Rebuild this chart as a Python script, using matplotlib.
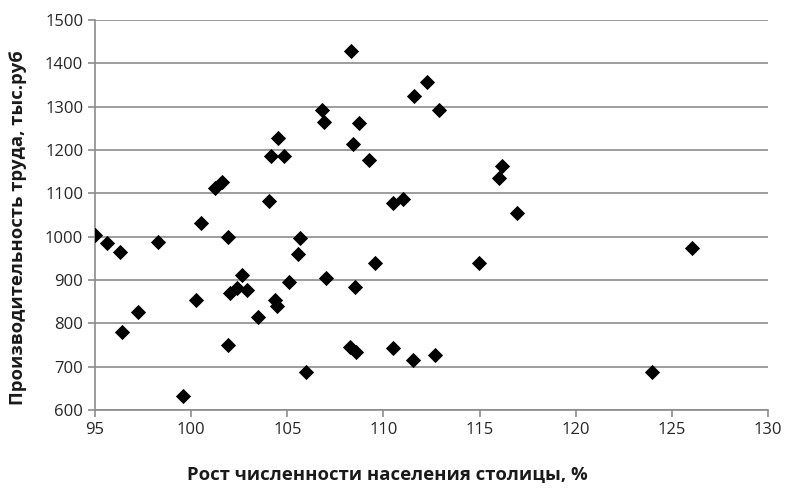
import matplotlib.pyplot as plt

# рост численности населения столицы, %
growth = [95.0, 95.6, 96.3, 96.4, 97.25, 98.26, 99.56, 100.24, 100.51, 101.24,
          101.59, 101.9, 101.93, 102.02, 102.37, 102.63, 102.89, 103.46, 104.05, 104.15,
          104.36, 104.45, 104.53, 104.83, 105.1, 105.57, 105.66, 105.95, 106.79, 106.9,
          107.01, 108.26, 108.31, 108.4, 108.52, 108.57, 108.74, 109.25, 109.56, 110.48,
          110.51, 111.03, 111.55, 111.61, 112.25, 112.68, 112.89, 114.97, 116.02, 116.15,
          116.96, 123.95, 126.03]
# производительность труда, тыс.руб
productivity = [1005, 985, 965, 781, 827, 987, 633, 854, 1031, 1112,
                1127, 1000, 750, 869, 881, 912, 877, 815, 1082, 1186,
                854, 840, 1227, 1186, 895, 960, 996, 688, 1292, 1265,
                904, 746, 1429, 1213, 885, 735, 1262, 1177, 940, 744,
                1078, 1086, 715, 1325, 1358, 727, 1292, 940, 1136, 1164,
                1054, 688, 975]

xticks = [95, 100, 105, 110, 115, 120, 125, 130]
yticks = [600, 700, 800, 900, 1000, 1100, 1200, 1300, 1400, 1500]

plt.rcParams['font.family'] = ['Open Sans', 'DejaVu Sans']

fig = plt.figure(figsize=(7.89, 4.88), dpi=100)
ax = fig.add_axes([0.1204, 0.1598, 0.853, 0.7992])

ax.scatter(growth, productivity, marker='D', s=60, color='black', zorder=3, linewidths=0)

ax.set_xlim(95, 130)
ax.set_ylim(600, 1500)
ax.set_xticks(xticks)
ax.set_yticks(yticks)
ax.yaxis.grid(True, color='#8c8c8c', linewidth=1.2)
ax.set_axisbelow(True)

for s in ['top', 'right']:
    ax.spines[s].set_visible(False)
for s in ['left', 'bottom']:
    ax.spines[s].set_color('#8c8c8c')
    ax.spines[s].set_linewidth(1.2)
ax.tick_params(colors='#8c8c8c', labelcolor='#262626', labelsize=12, length=5, width=1.2)

ax.set_xlabel('Рост численности населения столицы, %', fontsize=13.3, fontweight='bold',
              color='#1a1a1a')
ax.xaxis.set_label_coords(0.435, -0.143)
ax.set_ylabel('Производительность труда, тыс.руб', fontsize=13.3, fontweight='bold',
              color='#1a1a1a')
ax.yaxis.set_label_coords(-0.101, 0.467)

fig.savefig('out.png', dpi=100)
